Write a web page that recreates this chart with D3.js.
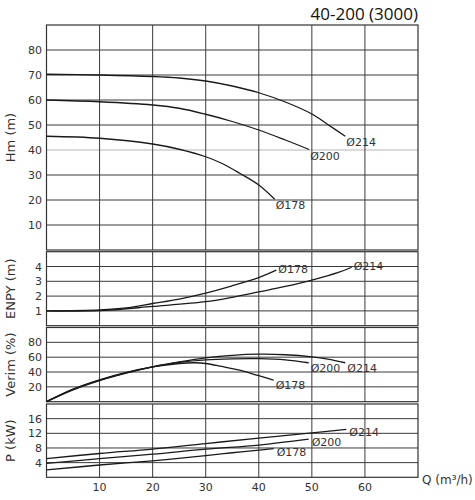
<!DOCTYPE html>
<html>
<head>
<meta charset="utf-8">
<script src="https://cdn.jsdelivr.net/npm/d3@7"></script>
<style>
  body { margin: 0; background: #fff; }
  text { font-family: "DejaVu Sans", sans-serif; fill: #333; }
</style>
</head>
<body>
<div class="chart"></div>
<script>
// flow axis
var qTicks = [10, 20, 30, 40, 50, 60];

// Hm (m)
var hmTicks = [10, 20, 30, 40, 50, 60, 70, 80];
var hmQ214 = [0, 10, 20, 25, 30, 35, 40, 45, 50, 53, 56.3];
var hm214  = [70.3, 70, 69.4, 68.8, 67.6, 65.6, 62.9, 59.2, 54.4, 50.2, 45.5];
var hmQ200 = [0, 10, 20, 25, 30, 35, 40, 45, 49.5];
var hm200  = [60, 59.3, 58, 56.7, 54.3, 51.4, 48, 44, 40.2];
var hmQ178 = [0, 10, 20, 25, 30, 33, 36.4, 40, 43];
var hm178  = [45.5, 44.7, 42.4, 40.3, 37.3, 34.7, 30.7, 26, 20.3];

// ENPY (m)
var npTicks = [1, 2, 3, 4];
var npQ178 = [0, 10, 15, 20, 25, 30, 35, 40, 43.3];
var np178  = [1, 1.07, 1.2, 1.5, 1.8, 2.2, 2.7, 3.25, 3.75];
var npQ214 = [0, 10, 20, 30, 35, 40, 45, 50, 55, 57.5];
var np214  = [1, 1.02, 1.3, 1.62, 1.92, 2.28, 2.65, 3.08, 3.6, 3.95];

// Verim (%)
var efTicks = [20, 40, 60, 80];
var efQ214 = [0, 5, 10, 15, 20, 25, 30, 35, 40, 45, 50, 53, 56.3];
var ef214  = [0, 16, 28.5, 38.5, 47, 53.5, 59, 62.5, 64, 63.3, 60.5, 57.5, 52.5];
var efQ200 = [0, 5, 10, 15, 20, 25, 30, 35, 40, 45, 49.4];
var ef200  = [0, 16.5, 29, 39, 47, 53, 56.5, 57.8, 58, 56.5, 52.5];
var efQ178 = [0, 5, 10, 15, 20, 25, 28, 30, 33, 36.4, 40, 42.8];
var ef178  = [0, 17, 29.5, 39.5, 47, 51.5, 52.5, 51.5, 47.5, 42.4, 35, 29];

// P (kW)
var pTicks = [4, 8, 12, 16];
var pQ214 = [0, 10, 20, 30, 40, 50, 56.5];
var p214  = [5.1, 6.5, 7.7, 9.2, 10.7, 12.1, 13.1];
var pQ200 = [0, 10, 20, 30, 40, 49.4];
var p200  = [3.8, 5.1, 6.3, 7.7, 8.8, 10.4];
var pQ178 = [0, 10, 20, 30, 35, 40, 42.8];
var p178  = [2.0, 3.35, 4.5, 5.9, 6.7, 7.4, 7.85];

var width = 475, height = 500;

var svg = d3.select(".chart")
  .append("svg")
    .attr("width", width)
    .attr("height", height);

var x = d3.scaleLinear().domain([0, 70]).range([46.5, 418]);

function zip(qs, vs) { return qs.map((q, i) => [q, vs[i]]); }

// each panel: y range, ticks, curves, label offset
var panels = [
  { name: "Hm (m)", domain: [0, 90], range: [250, 25], ticks: hmTicks, lightTick: 40,
    dx: 1, dy: 10,
    curves: [["214", zip(hmQ214, hm214)], ["200", zip(hmQ200, hm200)], ["178", zip(hmQ178, hm178)]] },
  { name: "ENPY (m)", domain: [0, 5], range: [325.7, 251.7], ticks: npTicks,
    dx: 2, dy: 3,
    curves: [["178", zip(npQ178, np178)], ["214", zip(npQ214, np214)]] },
  { name: "Verim (%)", domain: [0, 100], range: [401.7, 327.5], ticks: efTicks,
    dx: 2, dy: 9,
    curves: [["214", zip(efQ214, ef214)], ["200", zip(efQ200, ef200)], ["178", zip(efQ178, ef178)]] },
  { name: "P (kW)", domain: [0, 20], range: [477.3, 404], ticks: pTicks,
    dx: 3, dy: 7,
    curves: [["214", zip(pQ214, p214)], ["200", zip(pQ200, p200)], ["178", zip(pQ178, p178)]] }
];

panels.forEach(function(p) {
  var y = d3.scaleLinear().domain(p.domain).range(p.range);
  var g = svg.append("g");

  // horizontal grid
  g.selectAll(".hg")
    .data(p.ticks)
    .join("line")
      .attr("x1", x(0)).attr("x2", x(70))
      .attr("y1", d => y(d)).attr("y2", d => y(d))
      .attr("stroke", d => d === p.lightTick ? "#b5b5b5" : "#3a3a3a")
      .attr("stroke-width", 1);

  // vertical grid
  g.selectAll(".vg")
    .data(qTicks)
    .join("line")
      .attr("x1", d => x(d)).attr("x2", d => x(d))
      .attr("y1", y.range()[0]).attr("y2", y.range()[1])
      .attr("stroke", "#3a3a3a")
      .attr("stroke-width", 1);

  // frame
  g.append("rect")
    .attr("x", x(0)).attr("y", y.range()[1])
    .attr("width", x(70) - x(0))
    .attr("height", y.range()[0] - y.range()[1])
    .attr("fill", "none")
    .attr("stroke", "#333")
    .attr("stroke-width", 1.2);

  // tick labels
  g.selectAll(".tl")
    .data(p.ticks)
    .join("text")
      .attr("x", 42)
      .attr("y", d => y(d) + 4)
      .attr("text-anchor", "end")
      .attr("font-size", 11)
      .text(d => d);

  // axis name
  var mid = (y.range()[0] + y.range()[1]) / 2;
  g.append("text")
    .attr("transform", "translate(15," + mid + ") rotate(-90)")
    .attr("text-anchor", "middle")
    .attr("font-size", 13)
    .text(p.name);

  // curves
  var line = d3.line()
    .x(d => x(d[0]))
    .y(d => y(d[1]))
    .curve(d3.curveCatmullRom.alpha(0.5));

  p.curves.forEach(function(c) {
    g.append("path")
      .attr("d", line(c[1]))
      .attr("fill", "none")
      .attr("stroke", "#1a1a1a")
      .attr("stroke-width", 1.3);
    var last = c[1][c[1].length - 1];
    g.append("text")
      .attr("x", x(last[0]) + p.dx)
      .attr("y", y(last[1]) + p.dy)
      .attr("font-size", 11)
      .text("Ø" + c[0]);
  });
});

// x tick labels
svg.selectAll(".xt")
  .data(qTicks)
  .join("text")
    .attr("x", d => x(d))
    .attr("y", 491)
    .attr("text-anchor", "middle")
    .attr("font-size", 11)
    .text(d => d);

svg.append("text")
  .attr("x", 422)
  .attr("y", 484)
  .attr("font-size", 12)
  .text("Q (m³/h)");

svg.append("text")
  .attr("x", 418)
  .attr("y", 20)
  .attr("text-anchor", "end")
  .attr("font-size", 17)
  .style("font-family", "'Open Sans', sans-serif")
  .style("fill", "#111")
  .text("40-200 (3000)");
</script>
</body>
</html>
